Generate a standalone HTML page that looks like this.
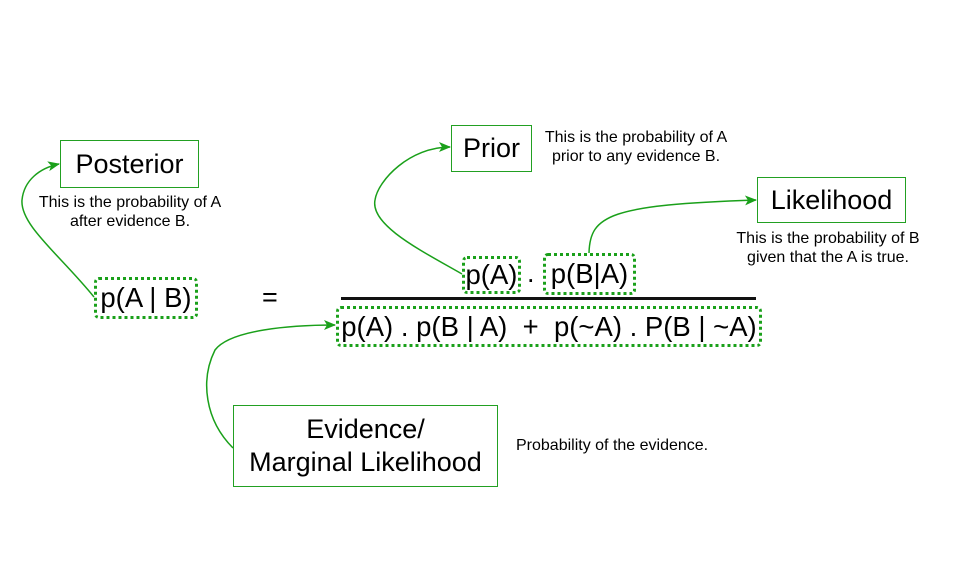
<!DOCTYPE html>
<html><head><meta charset="utf-8"><style>
body{margin:0;background:#fff;width:956px;height:567px;position:relative;overflow:hidden;font-family:"Liberation Sans",sans-serif;color:#000}
.b{position:absolute;border:1.5px solid #22a022;box-sizing:border-box;display:flex;align-items:center;justify-content:center;font-size:27px;text-align:center;line-height:33px}
.d{position:absolute;border:3px dotted #1aa01a;border-radius:5px;box-sizing:border-box;display:flex;align-items:center;justify-content:center;font-size:27.5px;white-space:pre}
.t{position:absolute;font-size:16px;text-align:center;line-height:19px;white-space:nowrap}
</style></head><body>
<svg width="956" height="567" style="position:absolute;left:0;top:0">
<defs><marker id="a" markerWidth="12" markerHeight="12" refX="11" refY="6" orient="auto" markerUnits="userSpaceOnUse"><path d="M0,1 L12,6 L0,11 L3,6z" fill="#1aa01a"/></marker></defs>
<g fill="none" stroke="#1aa01a" stroke-width="1.5">
<path d="M94,297 C60,255 20,225 22,200 C24,180 40,168 59,164" marker-end="url(#a)"/>
<path d="M462,274 C420,250 370,225 375,200 C378,180 410,147 450,147" marker-end="url(#a)"/>
<path d="M589,253 C590,215 610,205 756,200" marker-end="url(#a)"/>
<path d="M233,448 C205,420 200,380 215,350 C230,330 290,325 335,325" marker-end="url(#a)"/>
</g>
<line x1="341" y1="298.5" x2="756" y2="298.5" stroke="#111" stroke-width="3"/>
</svg>
<div class="b" style="left:60px;top:140px;width:139px;height:48px">Posterior</div>
<div class="t" style="left:30px;top:193px;width:200px">This is the probability of A<br>after evidence B.</div>
<div class="d" style="left:94px;top:277px;width:104px;height:42px">p(A | B)</div>
<div class="t" style="left:262px;top:282px;font-size:27px;line-height:30px">=</div>
<div class="b" style="left:451px;top:125px;width:81px;height:47px">Prior</div>
<div class="t" style="left:536px;top:128px;width:200px">This is the probability of A<br>prior to any evidence B.</div>
<div class="b" style="left:757px;top:177px;width:149px;height:46px">Likelihood</div>
<div class="t" style="left:728px;top:229px;width:200px">This is the probability of B<br>given that the A is true.</div>
<div class="d" style="left:462px;top:256px;width:59px;height:38px">p(A)</div>
<div class="t" style="left:527px;top:258px;font-size:27px;line-height:30px">.</div>
<div class="d" style="left:543px;top:253px;width:93px;height:42px">p(B|A)</div>
<div class="d" style="left:336px;top:306px;width:426px;height:41px">p(A) . p(B | A)  +  p(~A) . P(B | ~A)</div>
<div class="b" style="left:233px;top:405px;width:265px;height:82px">Evidence/<br>Marginal Likelihood</div>
<div class="t" style="left:516px;top:436px">Probability of the evidence.</div>
</body></html>
